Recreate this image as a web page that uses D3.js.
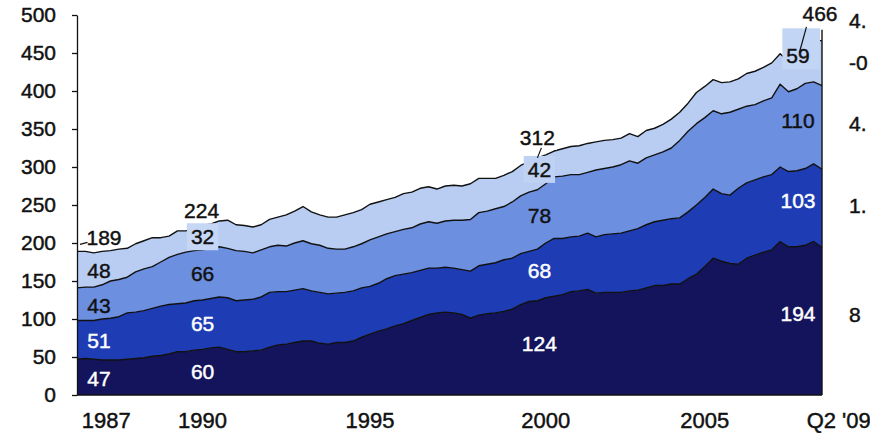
<!DOCTYPE html>
<html>
<head>
<meta charset="utf-8">
<script src="https://cdn.jsdelivr.net/npm/d3@7"></script>
<style>
  html, body { margin: 0; padding: 0; background: #fff; }
  svg { display: block; font-family: "Liberation Sans", Arial, Helvetica, sans-serif; }
  text { stroke-width: 0.45px; }
</style>
</head>
<body>
<svg id="chart" width="870" height="433"></svg>
<script>
// Quarterly series, 1987 Q1 (index 0) through 2009 Q2 (index 89), stacked bottom to top.
const layer1 = [
  47, 48, 47, 46, 46, 46, 47, 48, 49, 51,
  52, 54, 57, 57, 59, 60, 62, 63, 60, 57,
  57, 58, 59, 63, 66, 67, 69, 71, 71, 68,
  67, 69, 69, 71, 76, 80, 84, 87, 91, 94,
  98, 102, 106, 108, 109, 108, 106, 101, 105, 107,
  108, 110, 113, 119, 123, 124, 128, 130, 132, 136,
  137, 139, 134, 135, 135, 135, 137, 138, 141, 144,
  144, 146, 146, 153, 159, 169, 180, 176, 173, 172,
  180, 184, 188, 191, 202, 195, 195, 197, 202, 194
];
const layer2 = [
  51, 50, 51, 54, 55, 57, 61, 61, 62, 63,
  65, 65, 63, 64, 65, 65, 65, 66, 68, 67,
  68, 68, 70, 72, 70, 69, 69, 69, 66, 67,
  66, 65, 66, 66, 65, 63, 63, 66, 66, 65,
  63, 62, 61, 59, 59, 59, 59, 62, 65, 65,
  66, 68, 67, 67, 66, 68, 72, 76, 74, 72,
  72, 74, 74, 76, 77, 78, 79, 81, 83, 84,
  86, 86, 87, 88, 91, 91, 91, 89, 90, 100,
  99, 99, 99, 99, 98, 99, 100, 101, 102, 103
];
const layer3 = [
  43, 44, 44, 45, 49, 49, 47, 53, 55, 55,
  58, 62, 65, 67, 66, 66, 66, 66, 65, 66,
  64, 61, 62, 60, 61, 60, 62, 63, 62, 62,
  60, 58, 57, 58, 58, 61, 61, 59, 58, 59,
  59, 61, 61, 59, 61, 63, 65, 68, 70, 70,
  71, 70, 74, 76, 78, 78, 78, 81, 82, 82,
  81, 80, 88, 87, 88, 90, 92, 86, 88, 88,
  90, 93, 102, 106, 107, 105, 103, 105, 109, 104,
  101, 99, 100, 101, 109, 105, 108, 112, 108, 110
];
const layer4 = [
  48, 47, 45, 44, 40, 40, 38, 37, 37, 38,
  32, 28, 31, 28, 29, 32, 32, 34, 37, 34,
  34, 34, 33, 36, 37, 41, 42, 45, 42, 40,
  41, 42, 45, 45, 45, 47, 46, 45, 45, 47,
  47, 47, 46, 45, 46, 46, 45, 47, 45, 43,
  40, 41, 40, 40, 40, 42, 38, 34, 36, 37,
  38, 38, 37, 37, 36, 35, 36, 35, 36, 35,
  36, 38, 37, 37, 41, 41, 41, 41, 40, 40,
  43, 44, 44, 46, 40, 40, 45, 52, 56, 59
];

// Quarters carrying value labels, and the totals printed above them
const labelQuarters = [0, 15, 55, 89];
const totalLabels = ["189", "224", "312", "466"];

// Axis text
const xTickLabels = ["1987", "1990", "1995", "2000", "2005", "Q2 '09"];
const xTickQuarters = [3.5, 15, 35, 56, 75, 91];
const yTickValues = [0, 50, 100, 150, 200, 250, 300, 350, 400, 450, 500];

// Column of figures running off the right edge
const sideLabels = ["4.", "-0", "4.", "1.", "8"];

// ---------------------------------------------------------------------------
const svg = d3.select("#chart");

const keys = ["l1", "l2", "l3", "l4"];
const fills = ["#14145c", "#1e3db4", "#6c8fe0", "#b9cdf3"];
const labelColors = ["#fff", "#fff", "#111", "#111"];

const rows = layer1.map((v, i) => ({
  q: i, l1: v, l2: layer2[i], l3: layer3[i], l4: layer4[i]
}));
const series = d3.stack().keys(keys)(rows);
const lastQ = rows.length - 1;

const x = d3.scaleLinear().domain([0, lastQ]).range([77, 822]);
const y = d3.scaleLinear().domain([0, 500]).range([395, 15]);

// Stacked areas
const area = d3.area()
  .x(d => x(d.data.q))
  .y0(d => y(d[0]))
  .y1(d => y(d[1]));

svg.append("g").selectAll("path")
  .data(series)
  .join("path")
  .attr("d", area)
  .attr("fill", (d, i) => fills[i]);

// Outline along the top of each layer
const topLine = d3.line()
  .x(d => x(d.data.q))
  .y(d => y(d[1]));

svg.append("g").selectAll("path")
  .data(series)
  .join("path")
  .attr("d", topLine)
  .attr("fill", "none")
  .attr("stroke", "#111")
  .attr("stroke-width", 1.4)
  .attr("stroke-linejoin", "round");

// Baseline
svg.append("line")
  .attr("x1", x(0)).attr("x2", x(lastQ))
  .attr("y1", y(0)).attr("y2", y(0))
  .attr("stroke", "#111").attr("stroke-width", 1.5);

// Y axis
const yAxis = svg.append("g")
  .attr("transform", `translate(${x(0)},0)`)
  .call(d3.axisLeft(y).tickValues(yTickValues).tickSize(5).tickSizeOuter(0).tickPadding(16));
yAxis.select(".domain").attr("stroke", "#111").attr("stroke-width", 1.3);
yAxis.selectAll(".tick line").attr("stroke", "#111").attr("stroke-width", 1.3);
yAxis.selectAll(".tick text")
  .attr("fill", "#111")
  .attr("stroke", "#111")
  .style("font-size", "21px")
  .style("font-family", "'Liberation Sans', Arial, sans-serif");

// X axis labels
svg.append("g").selectAll("text")
  .data(xTickLabels)
  .join("text")
  .attr("x", (d, i) => x(xTickQuarters[i]))
  .attr("y", 428)
  .attr("text-anchor", "middle")
  .attr("fill", "#111")
  .attr("stroke", "#111")
  .style("font-size", "22px")
  .text(d => d);

// Value labels inside each layer, per labelled quarter
const colLayout = [
  { dx: 22, dy: 1, tdx: 27, tdy: -6 },
  { dx: 0, dy: -1, tdx: -1, tdy: -8 },
  { dx: 2, dy: -4.5, tdx: 0, tdy: -13 },
  { dx: -24, dy: -7.5, tdx: -2, tdy: -20 }
];
// Labels drawn on a patch of background colour
const boxed = { "1-3": "#c6d7f5", "2-3": "#bfd2f4", "3-3": "#c3d5f5" };

const labelLayer = svg.append("g").style("font-size", "21px");
const layerArrays = [layer1, layer2, layer3, layer4];

labelQuarters.forEach((q, c) => {
  const lay = colLayout[c];
  series.forEach((s, k) => {
    const pt = s[q];
    const mid = (pt[0] + pt[1]) / 2;
    const t = labelLayer.append("text")
      .attr("x", x(q) + lay.dx)
      .attr("y", y(mid) + lay.dy)
      .attr("dy", "0.36em")
      .attr("text-anchor", "middle")
      .attr("fill", labelColors[k])
      .attr("stroke", labelColors[k])
      .text(layerArrays[k][q]);
    const key = c + "-" + k;
    if (boxed[key]) {
      const b = t.node().getBBox();
      const extraTop = (c === 3) ? 14 : 0;
      const w = (c === 3) ? x(lastQ) - 1 - b.x + 3 : b.width + 8;
      labelLayer.insert("rect", () => t.node())
        .attr("x", b.x - 4)
        .attr("y", b.y - 2 - extraTop)
        .attr("width", w)
        .attr("height", b.height + 4 + extraTop)
        .attr("fill", boxed[key]);
    }
  });
});

// Totals above the stack
const topSeries = series[series.length - 1];
const totalNodes = [];
labelQuarters.forEach((q, c) => {
  const lay = colLayout[c];
  const t = labelLayer.append("text")
    .attr("x", x(q) + lay.tdx)
    .attr("y", y(topSeries[q][1]) + lay.tdy)
    .attr("text-anchor", "middle")
    .attr("fill", "#111")
    .attr("stroke", "#111")
    .text(totalLabels[c]);
  totalNodes.push(t);
  if (c === 2) {
    const b = t.node().getBBox();
    labelLayer.insert("rect", () => t.node())
      .attr("x", b.x - 1).attr("y", b.y + 1)
      .attr("width", b.width + 3).attr("height", b.height)
      .attr("fill", "#fff");
  }
});

// Leader lines from totals to the stack
const leaders = svg.append("g").attr("stroke", "#111").attr("stroke-width", 1.2).attr("fill", "none");
{
  const b0 = totalNodes[0].node().getBBox();
  leaders.append("line")
    .attr("x1", x(0) + 3).attr("y1", y(topSeries[0][1]) - 7)
    .attr("x2", b0.x + 1).attr("y2", y(topSeries[0][1]) - 9);
  const b2 = totalNodes[2].node().getBBox();
  leaders.append("line")
    .attr("x1", x(55)).attr("y1", y(topSeries[55][1]))
    .attr("x2", x(55) + 4).attr("y2", b2.y + b2.height - 1);
  const b3 = totalNodes[3].node().getBBox();
  leaders.append("line")
    .attr("x1", x(86.3)).attr("y1", y(topSeries[86][1]) - 2)
    .attr("x2", b3.x + 4).attr("y2", b3.y + b3.height + 2);
}

// Right-hand edge of the stack
svg.append("line")
  .attr("x1", x(lastQ)).attr("x2", x(lastQ))
  .attr("y1", y(topSeries[lastQ][1]) - 11).attr("y2", y(0))
  .attr("stroke", "#111").attr("stroke-width", 1.4);

// Figures at the right margin, level with the last column of labels
const sideY = [28, 70, 131, 213, 322];
svg.append("g").style("font-size", "21px").selectAll("text")
  .data(sideLabels)
  .join("text")
  .attr("x", 849)
  .attr("y", (d, i) => sideY[i])
  .attr("fill", "#111")
  .attr("stroke", "#111")
  .text(d => d);
</script>
</body>
</html>
